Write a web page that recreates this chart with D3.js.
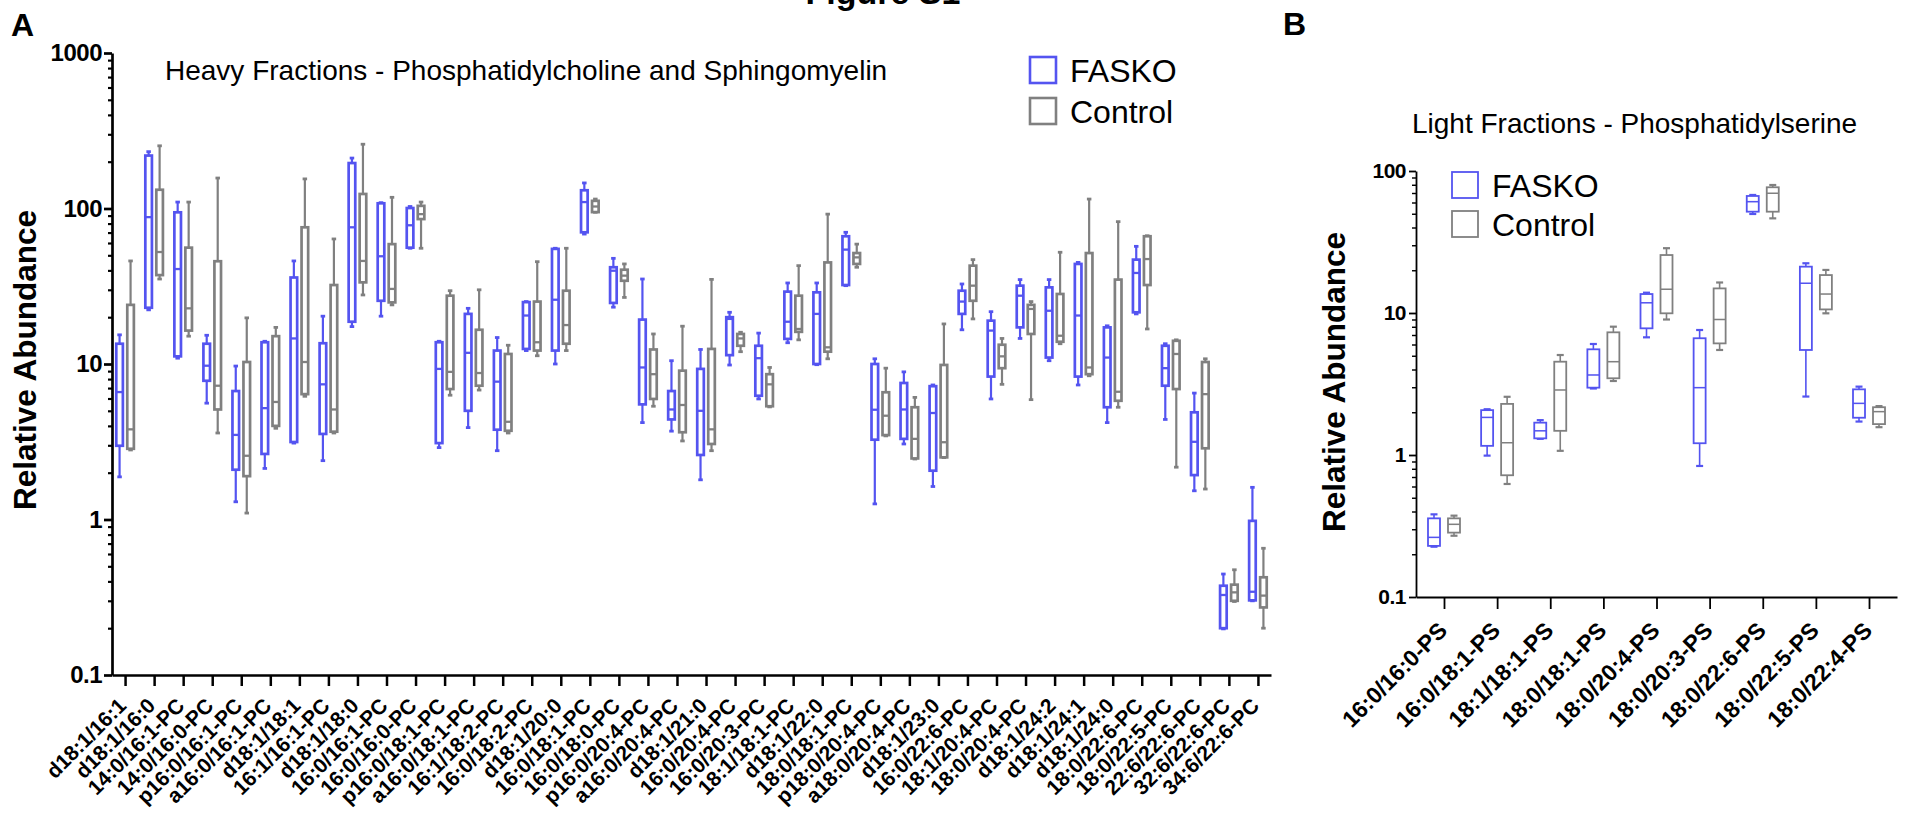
<!DOCTYPE html>
<html>
<head>
<meta charset="utf-8">
<script src="https://cdn.jsdelivr.net/npm/d3@7"></script>
<style>
  body { margin: 0; background: #fff; }
  svg text { font-family: "Liberation Sans", Arial, Helvetica, sans-serif; fill: #000; }
</style>
</head>
<body>
<div id="svg-container"></div>
<script>
/** Panel A: heavy fractions (PC and SM species) */
const categoriesA = [
  "d18:1/16:1", "d18:1/16:0", "14:0/16:1-PC", "14:0/16:0-PC", "p16:0/16:1-PC",
  "a16:0/16:1-PC", "d18:1/18:1", "16:1/16:1-PC", "d18:1/18:0", "16:0/16:1-PC",
  "16:0/16:0-PC", "p16:0/18:1-PC", "a16:0/18:1-PC", "16:1/18:2-PC", "16:0/18:2-PC",
  "d18:1/20:0", "16:0/18:1-PC", "16:0/18:0-PC", "p16:0/20:4-PC", "a16:0/20:4-PC",
  "d18:1/21:0", "16:0/20:4-PC", "16:0/20:3-PC", "18:1/18:1-PC", "d18:1/22:0",
  "18:0/18:1-PC", "p18:0/20:4-PC", "a18:0/20:4-PC", "d18:1/23:0", "16:0/22:6-PC",
  "18:1/20:4-PC", "18:0/20:4-PC", "d18:1/24:2", "d18:1/24:1", "d18:1/24:0",
  "18:0/22:6-PC", "18:0/22:5-PC", "22:6/22:6-PC", "32:6/22:6-PC", "34:6/22:6-PC"
];

/** [min, q1, median, q3, max] per category */
const faskoA = [
  [1.88, 2.98, 6.6, 13.5, 15.4], [22.3, 23, 88, 219, 232], [10.9, 11.2, 40.8, 94.5, 110],
  [5.6, 7.8, 9.75, 13.5, 15.3], [1.3, 2.09, 3.5, 6.7, 9.7], [2.13, 2.64, 5.2, 13.8, 14.0],
  [3.1, 3.15, 14.6, 36, 46], [2.39, 3.55, 7.4, 13.6, 20.3], [17.4, 18.7, 75.7, 196, 211],
  [20.3, 25.5, 49.3, 108, 109], [55.5, 56, 78, 100.7, 103], [2.9, 3.1, 9.3, 13.8, 14.0],
  [3.9, 5.0, 11.8, 21, 22.8], [2.77, 3.78, 7.7, 12.2, 14.8], [12.2, 12.5, 20.5, 25, 25.2],
  [10, 12.2, 25.9, 55, 55.5], [68.5, 70.3, 110, 131, 146], [23.2, 24.7, 39.8, 41.9, 47.8],
  [4.2, 5.5, 9.5, 19.3, 35.2], [3.7, 4.4, 5.1, 6.7, 10.5], [1.8, 2.6, 5.0, 9.3, 12.4],
  [9.85, 11.4, 19.5, 20, 21.5], [5.96, 6.25, 10.9, 13.1, 15.8], [13.7, 14.5, 18.7, 29.2, 33.2],
  [9.9, 10, 21, 28.9, 33.2], [31.9, 32.2, 54.4, 66.3, 70.3], [1.26, 3.26, 5.08, 10, 10.8],
  [3.06, 3.3, 5.1, 7.55, 8.9], [1.63, 2.06, 4.84, 7.2, 7.33], [16.6, 21, 25.2, 29.6, 32.7],
  [5.96, 8.3, 16.4, 19, 21.7], [14.6, 17.2, 27.5, 31.9, 34.9], [10.5, 11, 22, 31.1, 34.9],
  [7.33, 8.3, 20.5, 44, 45], [4.2, 5.27, 11, 17.2, 17.6], [21, 21.5, 38.5, 46.9, 57.1],
  [4.4, 7.25, 9.4, 13.1, 13.5], [1.53, 1.93, 3.16, 4.89, 6.5], [0.198, 0.2, 0.327, 0.375, 0.446],
  [0.30, 0.302, 0.343, 0.98, 1.61]
];
const controlA = [
  [2.8, 2.85, 3.8, 24, 46], [35.2, 37.3, 52.5, 132, 253], [15.1, 16.4, 22.8, 56, 110],
  [3.6, 5.1, 7.25, 45.8, 157], [1.1, 1.9, 2.57, 10.3, 19.8], [3.86, 4.0, 5.7, 15.1, 17.2],
  [6.2, 6.4, 10.3, 75.7, 155], [3.6, 3.67, 5.1, 32.2, 63.7], [27.8, 33.5, 46, 124, 259],
  [24, 24.9, 30.4, 59, 118], [55.5, 85.5, 92, 104, 110], [6.3, 6.9, 8.9, 27.5, 29.6],
  [6.8, 7.25, 8.75, 16.6, 30], [3.6, 3.72, 4.25, 11.6, 13.2], [11.3, 12.2, 13.8, 25.2, 45.5],
  [12.2, 13.5, 17.8, 29.6, 55.5], [94.6, 94.8, 103, 112, 115], [26.8, 34.3, 37, 40.4, 44],
  [5.35, 5.96, 8.6, 12.4, 15.6], [3.2, 3.64, 5.45, 9.06, 17.5], [2.77, 3.06, 3.8, 12.5, 35],
  [12, 13.1, 14.6, 15.6, 16], [5.3, 5.35, 7.4, 8.6, 9.5], [14.3, 16.1, 16.8, 27.5, 42.9],
  [10.8, 12, 12.8, 45, 92], [41.9, 44, 48.5, 51.7, 59], [3.45, 3.49, 4.65, 6.58, 9.4],
  [2.45, 2.47, 3.3, 5.27, 6.1], [2.5, 2.51, 3.14, 9.86, 18.1], [19.5, 25.5, 31.9, 42.9, 46.9],
  [7.4, 9.4, 11.2, 13.3, 14.6], [5.9, 15.6, 22.6, 24, 25.2], [13.5, 13.9, 15.2, 28.2, 52.3],
  [8.4, 8.6, 9.5, 51.7, 115], [5.27, 5.8, 6.63, 34.9, 82.3], [16.8, 32.2, 47.3, 66.3, 66.8],
  [2.17, 6.9, 11.6, 14.1, 14.3], [1.57, 2.87, 6.4, 10.3, 10.8], [0.297, 0.30, 0.34, 0.381, 0.475],
  [0.2, 0.272, 0.324, 0.425, 0.653]
];

/** Panel B: light fractions (PS species) */
const categoriesB = [
  "16:0/16:0-PS", "16:0/18:1-PS", "18:1/18:1-PS", "18:0/18:1-PS", "18:0/20:4-PS",
  "18:0/20:3-PS", "18:0/22:6-PS", "18:0/22:5-PS", "18:0/22:4-PS"
];
const faskoB = [
  [0.226, 0.229, 0.263, 0.358, 0.382], [0.99, 1.16, 1.84, 2.07, 2.1], [1.3, 1.31, 1.48, 1.69, 1.76],
  [2.94, 2.98, 3.66, 5.55, 6.05], [6.74, 7.8, 11.8, 13.6, 13.9], [0.837, 1.21, 2.98, 6.64, 7.59],
  [49.8, 51.7, 60.8, 66.7, 67.8], [2.58, 5.49, 16.2, 21.2, 22.4], [1.72, 1.83, 2.31, 2.9, 3.03]
];
const controlB = [
  [0.27, 0.284, 0.325, 0.358, 0.374], [0.625, 0.72, 1.22, 2.29, 2.57], [1.07, 1.48, 2.87, 4.54, 5.06],
  [3.32, 3.47, 4.54, 7.31, 8.01], [9.0, 9.95, 14.7, 25.6, 28.6], [5.49, 6.11, 9.0, 14.9, 16.4],
  [46.4, 51.7, 69.7, 76.8, 79.7], [9.95, 10.6, 13.6, 18.5, 20.1], [1.57, 1.65, 2.02, 2.17, 2.21]
];

const majorTicksA = [0.1, 1, 10, 100, 1000];
const majorTicksB = [0.1, 1, 10, 100];
const seriesNames = ["FASKO", "Control"];
const colors = ["#5454f0", "#808080"];

const FONT = "'Liberation Sans', Arial, Helvetica, sans-serif";

/** Create svg element */
const svg = d3.select("#svg-container")
  .append("svg")
  .attr("width", 1918)
  .attr("height", 816)
;

function drawPanel(p) {
  const x = d3.scalePoint().domain(p.categories).range([p.left, p.right]).padding(p.pad);
  const y = d3.scaleLog().domain(p.domain).range([p.bottom, p.top]);
  const g = svg.append("g");

  /** Box and whisker marks, FASKO left of tick, Control right */
  [p.fasko, p.control].forEach(function(series, s) {
    const off = s === 0 ? -p.offset : p.offset;
    const box = g.append("g")
      .attr("stroke", colors[s])
      .attr("fill", "none")
      .selectAll("g")
      .data(series)
      .enter()
      .append("g")
      .attr("transform", (d, i) => "translate(" + (x(p.categories[i]) + off) + ",0)")
    ;
    box.append("line")
      .attr("y1", (d) => y(d[0])).attr("y2", (d) => y(d[1]))
      .attr("stroke-width", p.whiskerW);
    box.append("line")
      .attr("y1", (d) => y(d[3])).attr("y2", (d) => y(d[4]))
      .attr("stroke-width", p.whiskerW);
    [0, 4].forEach(function(k) {
      box.append("line")
        .attr("x1", -p.capW / 2).attr("x2", p.capW / 2)
        .attr("y1", (d) => y(d[k])).attr("y2", (d) => y(d[k]))
        .attr("stroke-width", p.whiskerW + 0.6);
    });
    box.append("rect")
      .attr("x", -p.boxW / 2)
      .attr("width", p.boxW)
      .attr("y", (d) => y(d[3]))
      .attr("height", (d) => Math.max(0.5, y(d[1]) - y(d[3])))
      .attr("fill", "#fff")
      .attr("stroke-width", p.boxStroke);
    box.append("line")
      .attr("x1", -p.boxW / 2).attr("x2", p.boxW / 2)
      .attr("y1", (d) => y(d[2])).attr("y2", (d) => y(d[2]))
      .attr("stroke-width", p.boxStroke * 0.85);
  });

  /** y axis: minor ticks then major ticks with labels */
  const minor = y.ticks().filter((t) => p.majorTicks.indexOf(t) < 0);
  g.append("g")
    .attr("transform", "translate(" + p.left + ",0)")
    .call(d3.axisLeft(y).tickValues(minor).tickSize(p.minorTick).tickSizeOuter(0).tickFormat(""))
    .call((a) => a.selectAll("path,line").attr("stroke-width", p.axisW * 0.8))
    .call((a) => a.select(".domain").remove())
  ;
  g.append("g")
    .attr("transform", "translate(" + p.left + ",0)")
    .call(d3.axisLeft(y).tickValues(p.majorTicks).tickSize(p.majorTick).tickSizeOuter(0)
      .tickPadding(p.yPad).tickFormat(d3.format("~g")))
    .attr("font-family", FONT)
    .attr("font-size", p.yFont)
    .attr("font-weight", "bold")
    .call((a) => a.selectAll("path,line").attr("stroke-width", p.axisW))
    .call((a) => a.selectAll("text").attr("letter-spacing", "-0.5"))
  ;

  /** x axis with rotated category labels */
  g.append("g")
    .attr("transform", "translate(0," + p.bottom + ")")
    .call(d3.axisBottom(x).tickSize(p.xTick).tickSizeOuter(0))
    .attr("font-family", FONT)
    .attr("font-size", p.xFont)
    .attr("font-weight", "bold")
    .call((a) => a.select(".domain").attr("stroke-width", p.axisW))
    .call((a) => a.selectAll(".tick line").attr("stroke-width", p.xTickW))
    .call((a) => a.selectAll("text")
      .attr("x", 0).attr("y", 0).attr("dy", "0")
      .attr("text-anchor", "end")
      .attr("transform", "translate(" + p.lblDx + "," + p.lblDy + ") rotate(-45)"))
  ;

  /** Panel title */
  svg.append("text")
    .attr("x", p.titleX).attr("y", p.titleY)
    .style("font-size", "28px")
    .text(p.title)
  ;

  /** Legend */
  seriesNames.forEach(function(name, s) {
    svg.append("rect")
      .attr("x", p.legX).attr("y", p.legY + s * p.legStep)
      .attr("width", p.legSize).attr("height", p.legSize)
      .attr("fill", "none")
      .attr("stroke", colors[s])
      .attr("stroke-width", p.legStroke);
    svg.append("text")
      .attr("x", p.legX + p.legSize + 14)
      .attr("y", p.legY + s * p.legStep + p.legSize - 1)
      .style("font-size", "32px")
      .text(name);
  });

  /** y axis title */
  svg.append("text")
    .attr("transform", "translate(" + p.yTitleX + "," + p.yTitleY + ") rotate(-90)")
    .attr("text-anchor", "middle")
    .style("font-size", "31.5px")
    .style("font-weight", "bold")
    .text("Relative Abundance")
  ;
}

drawPanel({
  categories: categoriesA, fasko: faskoA, control: controlA,
  domain: [0.1, 1000], majorTicks: majorTicksA,
  left: 112, right: 1271, pad: 0.45, top: 53, bottom: 675,
  offset: 5.5, boxW: 6.6, boxStroke: 2.7, whiskerW: 2.2, capW: 4.5,
  axisW: 2.7, majorTick: 8, minorTick: 4, yPad: 2, yFont: 24,
  xTick: 11, xTickW: 2.5, xFont: 21, lblDx: 2, lblDy: 32,
  title: "Heavy Fractions - Phosphatidylcholine and Sphingomyelin", titleX: 165, titleY: 80,
  legX: 1030, legY: 57, legStep: 41, legSize: 26, legStroke: 2.6,
  yTitleX: 36, yTitleY: 360
});

drawPanel({
  categories: categoriesB, fasko: faskoB, control: controlB,
  domain: [0.1, 100], majorTicks: majorTicksB,
  left: 1416, right: 1897, pad: 0.527, top: 171, bottom: 597,
  offset: 10, boxW: 12, boxStroke: 1.8, whiskerW: 1.6, capW: 7,
  axisW: 1.8, majorTick: 7, minorTick: 4, yPad: 3, yFont: 21,
  xTick: 12, xTickW: 1.8, xFont: 23, lblDx: 4, lblDy: 35,
  title: "Light Fractions - Phosphatidylserine", titleX: 1412, titleY: 133,
  legX: 1452, legY: 172, legStep: 39, legSize: 26, legStroke: 1.8,
  yTitleX: 1345, yTitleY: 382
});

/** Panel letters and cropped figure heading */
svg.append("text").attr("x", 11).attr("y", 36)
  .style("font-size", "32px").style("font-weight", "bold").text("A");
svg.append("text").attr("x", 1283).attr("y", 35)
  .style("font-size", "32px").style("font-weight", "bold").text("B");
svg.append("text").attr("x", 883).attr("y", 4)
  .attr("text-anchor", "middle")
  .style("font-size", "34px").style("font-weight", "bold").text("Figure S1");
</script>
</body>
</html>
